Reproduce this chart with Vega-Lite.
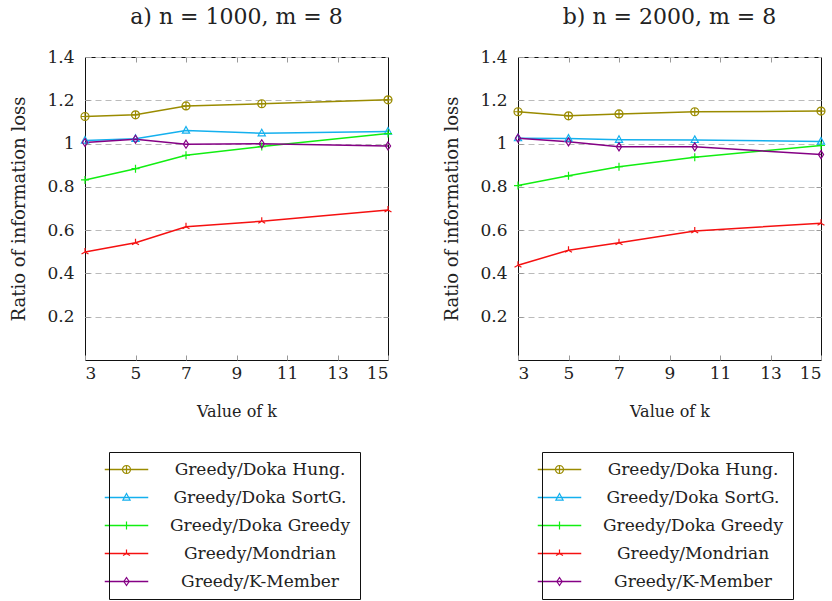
{
  "$schema": "https://vega.github.io/schema/vega-lite/v6.json",
  "background": "white",
  "padding": {"left": 10, "top": 5, "right": 6, "bottom": 2},
  "config": {
    "font": "DejaVu Serif",
    "view": {"stroke": "#111", "strokeWidth": 1},
    "axis": {"labelFont": "DejaVu Serif", "titleFont": "DejaVu Serif", "labelColor": "#222", "titleColor": "#222", "titleFontWeight": "normal", "labelFontSize": 17, "titleFontSize": 16, "domain": false, "tickColor": "#999", "tickWidth": 1},
    "legend": {"labelFont": "DejaVu Serif", "labelFontSize": 17, "labelColor": "#222", "labelLimit": 400}
  },
  "datasets": {
    "ratios": [
      {"panel": "a", "series": "Greedy/Doka Hung.", "k": 3, "value": 1.125},
      {"panel": "a", "series": "Greedy/Doka Hung.", "k": 5, "value": 1.133},
      {"panel": "a", "series": "Greedy/Doka Hung.", "k": 7, "value": 1.174},
      {"panel": "a", "series": "Greedy/Doka Hung.", "k": 10, "value": 1.184},
      {"panel": "a", "series": "Greedy/Doka Hung.", "k": 15, "value": 1.202},
      {"panel": "a", "series": "Greedy/Doka SortG.", "k": 3, "value": 1.014},
      {"panel": "a", "series": "Greedy/Doka SortG.", "k": 5, "value": 1.022},
      {"panel": "a", "series": "Greedy/Doka SortG.", "k": 7, "value": 1.060},
      {"panel": "a", "series": "Greedy/Doka SortG.", "k": 10, "value": 1.048},
      {"panel": "a", "series": "Greedy/Doka SortG.", "k": 15, "value": 1.056},
      {"panel": "a", "series": "Greedy/Doka Greedy", "k": 3, "value": 0.832},
      {"panel": "a", "series": "Greedy/Doka Greedy", "k": 5, "value": 0.884},
      {"panel": "a", "series": "Greedy/Doka Greedy", "k": 7, "value": 0.946},
      {"panel": "a", "series": "Greedy/Doka Greedy", "k": 10, "value": 0.986},
      {"panel": "a", "series": "Greedy/Doka Greedy", "k": 15, "value": 1.046},
      {"panel": "a", "series": "Greedy/Mondrian", "k": 3, "value": 0.499},
      {"panel": "a", "series": "Greedy/Mondrian", "k": 5, "value": 0.542},
      {"panel": "a", "series": "Greedy/Mondrian", "k": 7, "value": 0.616},
      {"panel": "a", "series": "Greedy/Mondrian", "k": 10, "value": 0.641},
      {"panel": "a", "series": "Greedy/Mondrian", "k": 15, "value": 0.693},
      {"panel": "a", "series": "Greedy/K-Member", "k": 3, "value": 1.005},
      {"panel": "a", "series": "Greedy/K-Member", "k": 5, "value": 1.020},
      {"panel": "a", "series": "Greedy/K-Member", "k": 7, "value": 0.997},
      {"panel": "a", "series": "Greedy/K-Member", "k": 10, "value": 0.999},
      {"panel": "a", "series": "Greedy/K-Member", "k": 15, "value": 0.989},
      {"panel": "b", "series": "Greedy/Doka Hung.", "k": 3, "value": 1.147},
      {"panel": "b", "series": "Greedy/Doka Hung.", "k": 5, "value": 1.128},
      {"panel": "b", "series": "Greedy/Doka Hung.", "k": 7, "value": 1.137},
      {"panel": "b", "series": "Greedy/Doka Hung.", "k": 10, "value": 1.147},
      {"panel": "b", "series": "Greedy/Doka Hung.", "k": 15, "value": 1.150},
      {"panel": "b", "series": "Greedy/Doka SortG.", "k": 3, "value": 1.025},
      {"panel": "b", "series": "Greedy/Doka SortG.", "k": 5, "value": 1.023},
      {"panel": "b", "series": "Greedy/Doka SortG.", "k": 7, "value": 1.018},
      {"panel": "b", "series": "Greedy/Doka SortG.", "k": 10, "value": 1.017},
      {"panel": "b", "series": "Greedy/Doka SortG.", "k": 15, "value": 1.009},
      {"panel": "b", "series": "Greedy/Doka Greedy", "k": 3, "value": 0.806},
      {"panel": "b", "series": "Greedy/Doka Greedy", "k": 5, "value": 0.851},
      {"panel": "b", "series": "Greedy/Doka Greedy", "k": 7, "value": 0.893},
      {"panel": "b", "series": "Greedy/Doka Greedy", "k": 10, "value": 0.937},
      {"panel": "b", "series": "Greedy/Doka Greedy", "k": 15, "value": 0.991},
      {"panel": "b", "series": "Greedy/Mondrian", "k": 3, "value": 0.438},
      {"panel": "b", "series": "Greedy/Mondrian", "k": 5, "value": 0.507},
      {"panel": "b", "series": "Greedy/Mondrian", "k": 7, "value": 0.542},
      {"panel": "b", "series": "Greedy/Mondrian", "k": 10, "value": 0.596},
      {"panel": "b", "series": "Greedy/Mondrian", "k": 15, "value": 0.632},
      {"panel": "b", "series": "Greedy/K-Member", "k": 3, "value": 1.025},
      {"panel": "b", "series": "Greedy/K-Member", "k": 5, "value": 1.008},
      {"panel": "b", "series": "Greedy/K-Member", "k": 7, "value": 0.985},
      {"panel": "b", "series": "Greedy/K-Member", "k": 10, "value": 0.985},
      {"panel": "b", "series": "Greedy/K-Member", "k": 15, "value": 0.949}
    ]
  },
  "data": {"name": "ratios"},
  "spacing": 130,
  "bounds": "flush",
  "hconcat": [
    {
      "width": 303,
      "height": 303,
      "title": {"text": "a) n = 1000, m = 8", "font": "DejaVu Serif", "fontSize": 22, "fontWeight": "normal", "color": "#222", "offset": 19},
      "transform": [{"filter": "datum.panel == 'a'"}],
      "layer": [
        {
          "mark": {"type": "line", "strokeWidth": 1.5},
          "encoding": {
            "x": {"field": "k", "type": "quantitative", "scale": {"domain": [3, 15], "nice": false, "zero": false}, "axis": {"values": [3, 5, 7, 9, 11, 13, 15], "title": "Value of k", "tickSize": -5, "labelPadding": 10, "titlePadding": 22, "grid": false}},
            "y": {"field": "value", "type": "quantitative", "scale": {"domain": [0, 1.4], "nice": false}, "axis": {"values": [0.2, 0.4, 0.6, 0.8, 1, 1.2, 1.4], "format": "~g", "title": "Ratio of information loss", "titleFontSize": 18, "tickSize": -5, "labelPadding": 16, "titlePadding": 18, "grid": true, "gridDash": [6, 4], "gridColor": "#bbb"}},
            "color": {"field": "series", "type": "nominal", "scale": {"domain": ["Greedy/Doka Hung.", "Greedy/Doka SortG.", "Greedy/Doka Greedy", "Greedy/Mondrian", "Greedy/K-Member"], "range": ["#9a8b00", "#14b0ee", "#11ee11", "#f51010", "#850085"]}, "legend": {"orient": "none", "legendX": 10, "legendY": 395, "title": null, "symbolType": "M -1 0 L 1 0", "symbolSize": 1892, "symbolStrokeWidth": 1.5, "clipHeight": 17, "labelAlign": "center", "labelOffset": 111, "padding": 9, "rowPadding": 10}}
          }
        },
        {
          "mark": {"type": "point", "filled": false, "size": 64, "strokeWidth": 1.2, "opacity": 1},
          "encoding": {
            "x": {"field": "k", "type": "quantitative", "axis": {"orient": "top", "values": [5, 7, 9, 11, 13], "labels": false, "title": null, "tickSize": -5, "grid": false}},
            "y": {"field": "value", "type": "quantitative", "axis": {"orient": "right", "values": [0.2, 0.4, 0.6, 0.8, 1, 1.2], "labels": false, "title": null, "tickSize": -5, "grid": false}},
            "color": {"field": "series", "type": "nominal", "scale": {"domain": ["Greedy/Doka Hung.", "Greedy/Doka SortG.", "Greedy/Doka Greedy", "Greedy/Mondrian", "Greedy/K-Member"], "range": ["#9a8b00", "#14b0ee", "#11ee11", "#f51010", "#850085"]}, "legend": {"orient": "none", "legendX": 24, "legendY": 395, "title": null, "symbolSize": 64, "symbolStrokeWidth": 1.2, "clipHeight": 17, "labelOpacity": 0, "labelAlign": "center", "labelOffset": 125, "padding": 9, "rowPadding": 10, "strokeColor": "#111"}},
            "shape": {"field": "series", "type": "nominal", "scale": {"domain": ["Greedy/Doka Hung.", "Greedy/Doka SortG.", "Greedy/Doka Greedy", "Greedy/Mondrian", "Greedy/K-Member"], "range": ["M -1 0 A 1 1 0 1 0 1 0 A 1 1 0 1 0 -1 0 Z M -1 0 L 1 0 M 0 -1 L 0 1", "M 0 -1 L 0.9 0.65 L -0.9 0.65 Z", "M -1 0 L 1 0 M 0 -1 L 0 1", "M 0 0 L 0 -1 M 0 0 L 0.87 0.5 M 0 0 L -0.87 0.5", "M 0 -1 L 0.65 0 L 0 1 L -0.65 0 Z"]}, "legend": {"orient": "none", "legendX": 24, "legendY": 395, "title": null, "symbolSize": 64, "symbolStrokeWidth": 1.2, "clipHeight": 17, "labelOpacity": 0, "labelAlign": "center", "labelOffset": 125, "padding": 9, "rowPadding": 10, "strokeColor": "#111"}}
          }
        }
      ],
      "resolve": {"scale": {"color": "independent", "shape": "independent"}, "axis": {"x": "independent", "y": "independent"}}
    },
    {
      "width": 303,
      "height": 303,
      "title": {"text": "b) n = 2000, m = 8", "font": "DejaVu Serif", "fontSize": 22, "fontWeight": "normal", "color": "#222", "offset": 19},
      "transform": [{"filter": "datum.panel == 'b'"}],
      "layer": [
        {
          "mark": {"type": "line", "strokeWidth": 1.5},
          "encoding": {
            "x": {"field": "k", "type": "quantitative", "scale": {"domain": [3, 15], "nice": false, "zero": false}, "axis": {"values": [3, 5, 7, 9, 11, 13, 15], "title": "Value of k", "tickSize": -5, "labelPadding": 10, "titlePadding": 22, "grid": false}},
            "y": {"field": "value", "type": "quantitative", "scale": {"domain": [0, 1.4], "nice": false}, "axis": {"values": [0.2, 0.4, 0.6, 0.8, 1, 1.2, 1.4], "format": "~g", "title": "Ratio of information loss", "titleFontSize": 18, "tickSize": -5, "labelPadding": 16, "titlePadding": 18, "grid": true, "gridDash": [6, 4], "gridColor": "#bbb"}},
            "color": {"field": "series", "type": "nominal", "scale": {"domain": ["Greedy/Doka Hung.", "Greedy/Doka SortG.", "Greedy/Doka Greedy", "Greedy/Mondrian", "Greedy/K-Member"], "range": ["#9a8b00", "#14b0ee", "#11ee11", "#f51010", "#850085"]}, "legend": {"orient": "none", "legendX": 10, "legendY": 395, "title": null, "symbolType": "M -1 0 L 1 0", "symbolSize": 1892, "symbolStrokeWidth": 1.5, "clipHeight": 17, "labelAlign": "center", "labelOffset": 111, "padding": 9, "rowPadding": 10}}
          }
        },
        {
          "mark": {"type": "point", "filled": false, "size": 64, "strokeWidth": 1.2, "opacity": 1},
          "encoding": {
            "x": {"field": "k", "type": "quantitative", "axis": {"orient": "top", "values": [5, 7, 9, 11, 13], "labels": false, "title": null, "tickSize": -5, "grid": false}},
            "y": {"field": "value", "type": "quantitative", "axis": {"orient": "right", "values": [0.2, 0.4, 0.6, 0.8, 1, 1.2], "labels": false, "title": null, "tickSize": -5, "grid": false}},
            "color": {"field": "series", "type": "nominal", "scale": {"domain": ["Greedy/Doka Hung.", "Greedy/Doka SortG.", "Greedy/Doka Greedy", "Greedy/Mondrian", "Greedy/K-Member"], "range": ["#9a8b00", "#14b0ee", "#11ee11", "#f51010", "#850085"]}, "legend": {"orient": "none", "legendX": 24, "legendY": 395, "title": null, "symbolSize": 64, "symbolStrokeWidth": 1.2, "clipHeight": 17, "labelOpacity": 0, "labelAlign": "center", "labelOffset": 125, "padding": 9, "rowPadding": 10, "strokeColor": "#111"}},
            "shape": {"field": "series", "type": "nominal", "scale": {"domain": ["Greedy/Doka Hung.", "Greedy/Doka SortG.", "Greedy/Doka Greedy", "Greedy/Mondrian", "Greedy/K-Member"], "range": ["M -1 0 A 1 1 0 1 0 1 0 A 1 1 0 1 0 -1 0 Z M -1 0 L 1 0 M 0 -1 L 0 1", "M 0 -1 L 0.9 0.65 L -0.9 0.65 Z", "M -1 0 L 1 0 M 0 -1 L 0 1", "M 0 0 L 0 -1 M 0 0 L 0.87 0.5 M 0 0 L -0.87 0.5", "M 0 -1 L 0.65 0 L 0 1 L -0.65 0 Z"]}, "legend": {"orient": "none", "legendX": 24, "legendY": 395, "title": null, "symbolSize": 64, "symbolStrokeWidth": 1.2, "clipHeight": 17, "labelOpacity": 0, "labelAlign": "center", "labelOffset": 125, "padding": 9, "rowPadding": 10, "strokeColor": "#111"}}
          }
        }
      ],
      "resolve": {"scale": {"color": "independent", "shape": "independent"}, "axis": {"x": "independent", "y": "independent"}}
    }
  ]
}
